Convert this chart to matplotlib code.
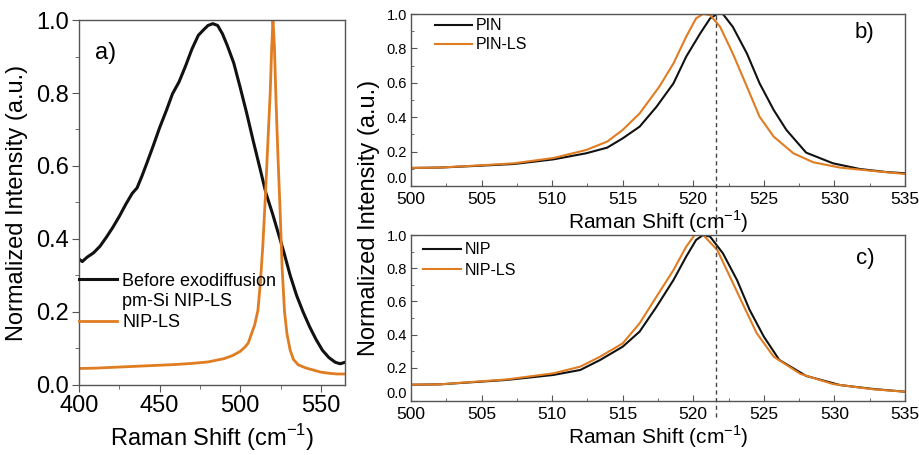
import matplotlib
matplotlib.use("Agg")
import matplotlib.pyplot as plt
from matplotlib.lines import Line2D
from matplotlib.transforms import blended_transform_factory

plt.rcParams['font.family'] = ['Liberation Sans', 'DejaVu Sans']
plt.rcParams['mathtext.fontset'] = 'custom'
plt.rcParams['mathtext.rm'] = 'Liberation Sans'

BLACK = '#111111'
ORANGE = '#e07c22'
SPINE = '#555555'

# a) wide scan: before exodiffusion vs NIP-LS
a_before_x = [400, 402, 405, 409, 413, 417, 421, 425, 429, 433, 436, 439, 442, 446,
              450, 454, 458, 462, 466, 470, 474, 477, 480, 483, 486, 489, 492, 496,
              500, 504, 508, 512, 516, 520, 523, 527, 531, 535, 539, 543, 547, 551,
              555, 559, 562, 565]
a_before_y = [0.345, 0.338, 0.350, 0.362, 0.380, 0.405, 0.432, 0.462, 0.495, 0.525,
              0.540, 0.572, 0.607, 0.655, 0.705, 0.750, 0.798, 0.830, 0.873, 0.920,
              0.958, 0.972, 0.985, 0.990, 0.985, 0.962, 0.930, 0.882, 0.815, 0.745,
              0.670, 0.598, 0.525, 0.470, 0.425, 0.365, 0.300, 0.245, 0.200, 0.160,
              0.125, 0.095, 0.075, 0.062, 0.058, 0.062]
a_nip_x = [400, 410, 420, 430, 440, 450, 460, 470, 480, 490, 495, 500, 503, 505,
           507, 509, 511, 512.5, 514, 515.5, 517, 518.6, 519.5, 520.3, 521.2, 522.2,
           523.3, 524.8, 526, 527.5, 529, 531, 533, 536, 541, 546, 550, 555, 560, 565]
a_nip_y = [0.045, 0.046, 0.048, 0.050, 0.052, 0.054, 0.056, 0.059, 0.063, 0.072,
           0.080, 0.092, 0.104, 0.115, 0.140, 0.165, 0.205, 0.280, 0.380, 0.507,
           0.650, 0.800, 0.920, 1.000, 0.930, 0.780, 0.640, 0.470, 0.320, 0.200,
           0.140, 0.095, 0.070, 0.055, 0.046, 0.040, 0.035, 0.032, 0.030, 0.030]

# b) PIN vs PIN-LS
b_pin_x = [500, 502, 504.9, 507.3, 510.1, 512.4, 513.9, 515.0, 516.2, 517.4, 518.6,
           519.5, 520.5, 521.2, 521.7, 522.1, 522.8, 523.8, 524.7, 525.7, 526.6,
           528.0, 529.9, 531.8, 533.7, 535]
b_pin_y = [0.105, 0.107, 0.118, 0.128, 0.155, 0.190, 0.223, 0.277, 0.345, 0.461,
           0.597, 0.752, 0.888, 0.975, 1.000, 1.000, 0.926, 0.771, 0.597, 0.442,
           0.326, 0.194, 0.132, 0.099, 0.081, 0.074]
b_pinls_x = [500, 502, 504.9, 507.3, 510.1, 512.4, 513.9, 515.0, 516.2, 517.6, 518.6,
             519.5, 520.2, 520.7, 521.2, 521.9, 522.8, 523.8, 524.7, 525.7, 527.1,
             528.5, 530.4, 532.8, 535]
b_pinls_y = [0.105, 0.107, 0.120, 0.132, 0.163, 0.209, 0.258, 0.326, 0.422, 0.578,
             0.713, 0.868, 0.975, 1.000, 0.994, 0.926, 0.771, 0.578, 0.403, 0.287,
             0.190, 0.138, 0.107, 0.087, 0.070]

# c) NIP vs NIP-LS
c_nip_x = [500, 502, 506.8, 510.1, 512.0, 513.4, 515.0, 516.2, 517.4, 518.6, 519.5,
           520.2, 520.7, 521.2, 522.1, 523.1, 524.0, 525.0, 526.1, 528.0, 530.4,
           532.8, 535]
c_nip_y = [0.098, 0.100, 0.127, 0.157, 0.187, 0.247, 0.327, 0.418, 0.568, 0.729,
           0.870, 0.970, 1.000, 0.990, 0.890, 0.729, 0.548, 0.388, 0.247, 0.151,
           0.096, 0.072, 0.056]
c_nipls_x = [500, 502, 506.8, 510.1, 512.0, 513.4, 515.0, 516.2, 517.4, 518.6, 519.5,
             520.1, 520.7, 521.7, 522.6, 523.6, 524.5, 525.7, 527.6, 529.9, 532.8, 535]
c_nipls_y = [0.098, 0.100, 0.130, 0.167, 0.207, 0.267, 0.347, 0.468, 0.629, 0.789,
             0.930, 1.000, 1.000, 0.910, 0.749, 0.568, 0.408, 0.267, 0.163, 0.102,
             0.070, 0.056]

si_peak = 521.6
xlab = r'Raman Shift (cm$^{\mathregular{-1}}$)'
ylab = 'Normalized Intensity (a.u.)'

fig = plt.figure(figsize=(9.19, 4.55), dpi=100)
ax_a = fig.add_axes([0.086, 0.154, 0.2894, 0.802])
ax_b = fig.add_axes([0.4472, 0.5912, 0.5375, 0.378])
ax_c = fig.add_axes([0.4472, 0.1187, 0.5375, 0.3648])


def style(ax, xmaj, xmin, xsize, ysize, tdir, tlen, pad):
    for s in ax.spines.values():
        s.set_color(SPINE)
        s.set_linewidth(1.0)
    ax.set_xticks(xmaj)
    ax.set_xticks(xmin, minor=True)
    ax.set_yticks([0.0, 0.2, 0.4, 0.6, 0.8, 1.0])
    ax.set_yticks([0.1, 0.3, 0.5, 0.7, 0.9], minor=True)
    ax.tick_params(which='major', direction=tdir, length=tlen, color=SPINE, pad=pad)
    ax.tick_params(which='minor', direction=tdir, length=tlen * 0.6, color=SPINE)
    ax.tick_params(axis='x', labelsize=xsize)
    ax.tick_params(axis='y', labelsize=ysize)
    ax.set_ylim(0, 1.0)


# panel a
ax_a.plot(a_before_x, a_before_y, color=BLACK, lw=2.2)
ax_a.plot(a_nip_x, a_nip_y, color=ORANGE, lw=2.0)
ax_a.set_xlim(400, 565)
style(ax_a, [400, 450, 500, 550], [425, 475, 525], 17, 17, 'out', 5, 2)
ax_a.set_yticklabels(['0.0', '0.2', '0.4', '0.6', '0.8', '1.0'])
ax_a.set_xlabel(xlab, fontsize=17, labelpad=4)
ax_a.set_ylabel(ylab, fontsize=17, labelpad=6)
ax_a.text(0.10, 0.91, 'a)', transform=ax_a.transAxes, fontsize=17,
          ha='center', va='center')
handles_a = [Line2D([], [], color=BLACK, lw=2.2),
             Line2D([], [], color='none'),
             Line2D([], [], color=ORANGE, lw=2.0)]
ax_a.legend(handles_a, ['Before exodiffusion', 'pm-Si NIP-LS', 'NIP-LS'],
            loc='center left', bbox_to_anchor=(0.0, 0.228), frameon=False,
            fontsize=13, handlelength=2.1, handletextpad=0.3, labelspacing=0.2,
            borderaxespad=0, borderpad=0)

# panel b
ax_b.plot(b_pin_x, b_pin_y, color=BLACK, lw=1.5, label='PIN')
ax_b.plot(b_pinls_x, b_pinls_y, color=ORANGE, lw=1.5, label='PIN-LS')
ax_b.set_xlim(500, 535)
style(ax_b, list(range(500, 536, 5)), [502.5 + 5 * i for i in range(7)],
      12.5, 10.5, 'in', 4, 3)
ax_b.tick_params(axis='x', pad=4)
ax_b.set_xlabel(xlab, fontsize=15, labelpad=1)
ax_b.text(0.919, 0.89, 'b)', transform=ax_b.transAxes, fontsize=16,
          ha='center', va='center')
ax_b.legend(loc='upper left', bbox_to_anchor=(0.049, 0.975), frameon=False,
            fontsize=11.5, handlelength=2.3, handletextpad=0.25, labelspacing=0.25,
            borderaxespad=0, borderpad=0)

# panel c
ax_c.plot(c_nip_x, c_nip_y, color=BLACK, lw=1.5, label='NIP')
ax_c.plot(c_nipls_x, c_nipls_y, color=ORANGE, lw=1.5, label='NIP-LS')
ax_c.set_xlim(500, 535)
style(ax_c, list(range(500, 536, 5)), [502.5 + 5 * i for i in range(7)],
      12.5, 10.5, 'in', 4, 3)
ax_c.tick_params(axis='x', pad=4)
ax_c.set_xlabel(xlab, fontsize=15, labelpad=1)
ax_c.text(0.919, 0.86, 'c)', transform=ax_c.transAxes, fontsize=16,
          ha='center', va='center')
ax_c.legend(loc='upper left', bbox_to_anchor=(0.024, 0.955), frameon=False,
            fontsize=11.5, handlelength=2.4, handletextpad=0.2, labelspacing=0.35,
            borderaxespad=0, borderpad=0)

# lift the 0.0 label of the small panels clear of the 500 label
for ax in (ax_b, ax_c):
    fig.canvas.draw()
    ax.get_yticklabels()[0].set_verticalalignment('bottom')

fig.text(0.401, 0.52, ylab, rotation=90, fontsize=17, ha='center', va='center')

# crystalline Si reference line running through both right-hand panels
tr = blended_transform_factory(ax_b.transData, fig.transFigure)
fig.add_artist(Line2D([si_peak, si_peak], [1 - 417 / 455, 1 - 14 / 455],
                      transform=tr, color='#444444', lw=1.0, ls=(0, (3, 2.5)),
                      zorder=5))

fig.savefig('out.png', dpi=100)
